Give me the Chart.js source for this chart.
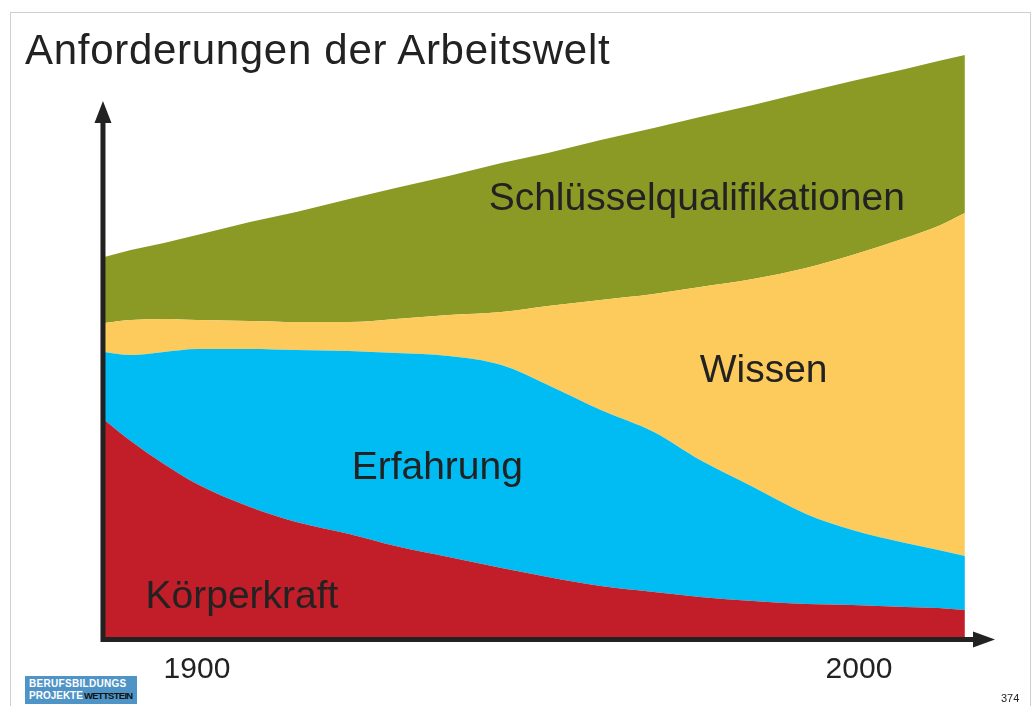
<!DOCTYPE html>
<html lang="de">
<head>
<meta charset="utf-8">
<title>Anforderungen der Arbeitswelt</title>
<script src="https://cdn.jsdelivr.net/npm/chart.js@4.4.1/dist/chart.umd.min.js"></script>
<style>
  html, body { margin: 0; padding: 0; background: #fff; }
  #wrap { position: relative; width: 1034px; height: 706px; overflow: hidden; font-family: "Liberation Sans", Arial, sans-serif; }
  #frame { position: absolute; left: 10px; top: 12px; width: 1021px; height: 720px; border: 1px solid #cfcfcf; box-sizing: border-box; }
  #chart { position: absolute; left: 0; top: 0; }
  #title { position: absolute; left: 25px; top: 25px; font-size: 42px; letter-spacing: 0.7px; color: #222; white-space: nowrap; line-height: 50px; }
  #pageno { position: absolute; left: 1001px; top: 692px; font-size: 11px; color: #222; }
  #logo { position: absolute; left: 25px; top: 676px; width: 112px; height: 28px; background: #4f94c6; overflow: hidden; }
  #logo .l1, #logo .l2 { position: absolute; left: 4px; font-size: 10px; font-weight: bold; color: #fff; line-height: 12px; white-space: nowrap; }
  #logo .l1 { top: 2px; letter-spacing: 0.3px; }
  #logo .l2 { top: 14px; }
  #logo .l2 b { color: #111; font-size: 9.5px; letter-spacing: -0.7px; margin-left: 1px; }
</style>
</head>
<body>
<div id="wrap">
  <div id="frame"></div>
  <canvas id="chart" width="1034" height="706"></canvas>
  <div id="title">Anforderungen der Arbeitswelt</div>
  <div id="logo"><span class="l1">BERUFSBILDUNGS</span><span class="l2">PROJEKTE<b>WETTSTEIN</b></span></div>
  <div id="pageno">374</div>
</div>
<script>
// Jahre (x) und Schichtdicken (gestapelt, von unten nach oben)
const years = [1886, 1890, 1895, 1900, 1908, 1915, 1923, 1930, 1938, 1946, 1953, 1961, 1969, 1976, 1984, 1992, 1999, 2007, 2012, 2016];
const koerperkraft = [217, 196, 173, 153, 130, 115, 103, 91, 80, 69, 60, 51, 45, 40, 36, 33, 32, 30, 29, 27];
const erfahrung = [68, 86, 112, 135, 158, 172, 183, 193, 201, 203, 192, 176, 160, 137, 114, 90, 75, 64, 58, 54];
const wissen = [29, 35, 33, 29, 28, 28, 29, 34, 41, 53, 79, 110, 138, 173, 208, 246, 275, 305, 324, 343];
const schluessel = [66, 70, 76, 85, 99, 110, 123, 131, 139, 149, 153, 160, 166, 170, 174, 176, 174, 169, 165, 158];

// feine gestrichelte Hilfslinie im blauen Feld
const guideYears = [1886, 2016];
const guideValues = [217, 29];

const tickYears = [1900, 2000];
const xMin = 1885.35, xMax = 2020.55, yMax = 587;
const axisYear = 1885.8, yArrowTop = 536;

const labels = [
  { text: 'Schlüsselqualifikationen', x: 1975.5, y: 438 },
  { text: 'Wissen', x: 1985.6, y: 266 },
  { text: 'Erfahrung', x: 1936.3, y: 169 },
  { text: 'Körperkraft', x: 1906.8, y: 40 }
];

const colors = { red: '#c11e29', blue: '#00bcf2', yellow: '#fdcb5b', green: '#8a9a25' };
const FONT = '"Liberation Sans", Arial, sans-serif';

function series(vals) { return years.map((y, i) => ({ x: y, y: vals[i] })); }
function area(label, vals, color, fill) {
  return { label, data: series(vals), backgroundColor: color, borderColor: color, borderWidth: 0,
    fill, pointRadius: 0, cubicInterpolationMode: 'monotone', stack: 'main' };
}

// Achsen mit Pfeilen + Beschriftungen der Flächen
const decor = {
  id: 'decor',
  afterDatasetsDraw(chart) {
    const { ctx, scales: { x, y } } = chart;
    ctx.save();
    ctx.fillStyle = '#222';
    ctx.font = '39px ' + FONT;
    ctx.textAlign = 'center';
    ctx.textBaseline = 'middle';
    labels.forEach(l => ctx.fillText(l.text, x.getPixelForValue(l.x), y.getPixelForValue(l.y)));

    const ax = x.getPixelForValue(axisYear);
    const base = y.getPixelForValue(0) + 2.5;
    const tipY = y.getPixelForValue(yArrowTop);
    const tipX = x.getPixelForValue(xMax);
    ctx.strokeStyle = '#222';
    ctx.lineWidth = 5;
    ctx.beginPath();
    ctx.moveTo(ax, base + 2.5); ctx.lineTo(ax, tipY + 18);
    ctx.moveTo(ax - 2.5, base); ctx.lineTo(tipX - 18, base);
    ctx.stroke();
    ctx.beginPath();
    ctx.moveTo(ax, tipY); ctx.lineTo(ax - 8.5, tipY + 22); ctx.lineTo(ax + 8.5, tipY + 22); ctx.closePath();
    ctx.moveTo(tipX, base); ctx.lineTo(tipX - 22, base - 8); ctx.lineTo(tipX - 22, base + 8); ctx.closePath();
    ctx.fill();
    ctx.restore();
  }
};

new Chart(document.getElementById('chart'), {
  type: 'line',
  data: {
    datasets: [
      area('Körperkraft', koerperkraft, colors.red, 'origin'),
      area('Erfahrung', erfahrung, colors.blue, '-1'),
      area('Wissen', wissen, colors.yellow, '-1'),
      area('Schlüsselqualifikationen', schluessel, colors.green, '-1'),
      { label: 'guide', data: guideYears.map((g, i) => ({ x: g, y: guideValues[i] })), borderColor: 'rgba(100,120,180,0.6)',
        borderWidth: 1, borderDash: [4, 3], fill: false, pointRadius: 0, stack: 'guide' }
    ]
  },
  options: {
    responsive: false,
    devicePixelRatio: 1,
    animation: false,
    layout: { padding: { left: 100, right: 39, top: 50, bottom: 3 } },
    plugins: { legend: { display: false }, tooltip: { enabled: false } },
    scales: {
      x: {
        type: 'linear', min: xMin, max: xMax,
        grid: { display: false, drawTicks: false },
        border: { display: false },
        afterBuildTicks: s => { s.ticks = tickYears.map(v => ({ value: v })); },
        ticks: { autoSkip: false, maxRotation: 0, padding: 15, color: '#222', font: { family: FONT, size: 30 }, callback: v => String(v) }
      },
      y: { display: false, stacked: true, min: 0, max: yMax }
    }
  },
  plugins: [decor]
});
</script>
</body>
</html>
